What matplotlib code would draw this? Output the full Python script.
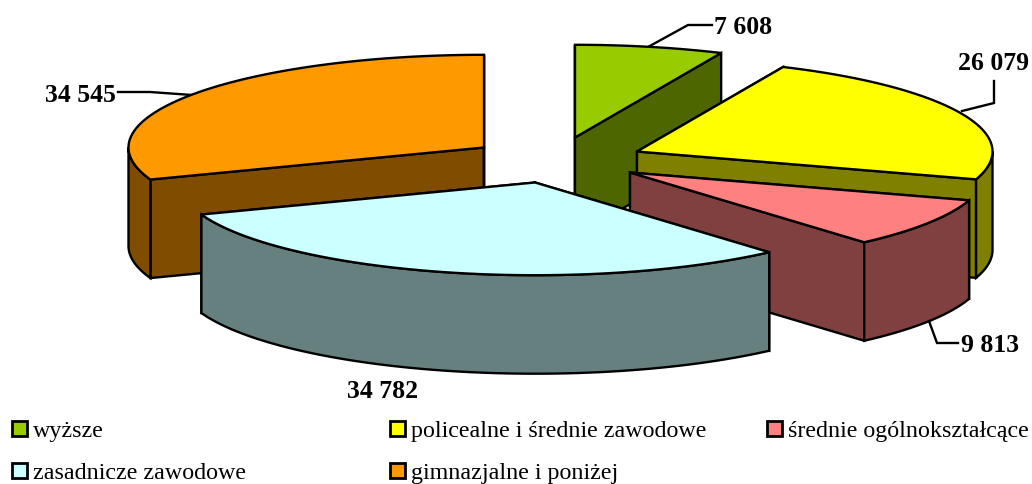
import numpy as np
import matplotlib
matplotlib.use("Agg")
import matplotlib.pyplot as plt
from matplotlib.patches import Polygon, Rectangle

categories = ["wyższe", "policealne i średnie zawodowe", "średnie ogólnokształcące",
              "zasadnicze zawodowe", "gimnazjalne i poniżej"]
values = [7608, 26079, 9813, 34782, 34545]
value_labels = ["7 608", "26 079", "9 813", "34 782", "34 545"]
top_colors = ["#99CC00", "#FFFF00", "#FF8080", "#CCFFFF", "#FF9900"]
side_colors = ["#4D6600", "#808000", "#804040", "#668080", "#804D00"]

# layout (pixels)
apex = [(575, 138.5), (637, 152.5), (630, 173.5), (535, 183.5), (484, 148.5)]
RX, RY, DEPTH = 355.5, 92.7, 98.5
draw_order = [0, 4, 1, 2, 3]
label_pos = [(743, 27.5), (994, 63), (990, 346), (383, 392), (80, 96)]
leaders = [[(648, 48), (688, 26), (712, 26)],
           [(962, 112), (994, 104), (994, 82)],
           [(929, 322), (937, 344), (958, 344)],
           None,
           [(118, 93), (150, 93), (192, 96)]]
legend_pos = [(12, 422), (390, 422), (767, 422), (12, 464), (390, 464)]

plt.rcParams["font.family"] = ["Liberation Serif", "DejaVu Serif"]
fig = plt.figure(figsize=(10.32, 4.85), dpi=100)
ax = fig.add_axes([0, 0, 1, 1])
ax.set_xlim(0, 1032)
ax.set_ylim(485, 0)
ax.axis("off")

total = sum(values)
edges = np.concatenate([[0], np.cumsum(values)]) / total * 2 * np.pi
LW = 1.7


def rim(c, a):
    return np.column_stack([c[0] + RX * np.sin(a), c[1] - RY * np.cos(a)])


def poly(pts, color, z):
    ax.add_patch(Polygon(pts, closed=True, facecolor=color, edgecolor="black",
                         linewidth=LW, joinstyle="miter", zorder=z))


z = 2
for i in draw_order:
    c = np.array(apex[i], float)
    a0, a1 = edges[i], edges[i + 1]
    down = np.array([0, DEPTH])
    # cut walls
    for a in (a0, a1):
        p = rim(c, np.array([a]))[0]
        poly([c, p, p + down, c + down], side_colors[i], z)
    # outer wall (front half only)
    lo, hi = max(a0, np.pi / 2), min(a1, 3 * np.pi / 2)
    if hi > lo:
        arc = rim(c, np.linspace(lo, hi, 100))
        poly(np.vstack([arc, (arc + down)[::-1]]), side_colors[i], z)
    # top
    arc = rim(c, np.linspace(a0, a1, 150))
    poly(np.vstack([[c], arc]), top_colors[i], z)
    z += 1

for i, txt in enumerate(value_labels):
    if leaders[i]:
        xs, ys = zip(*leaders[i])
        ax.plot(xs, ys, color="black", lw=LW, zorder=1.5, solid_joinstyle="miter")
    ax.text(*label_pos[i], txt, ha="center", va="center", fontsize=18.5,
            fontweight="bold", color="black", zorder=20)

for i, name in enumerate(categories):
    x, y = legend_pos[i]
    ax.add_patch(Rectangle((x, y), 15, 15, facecolor=top_colors[i], edgecolor="black",
                           linewidth=LW + 0.3, zorder=20))
    ax.text(x + 21, y + 15, name, ha="left", va="baseline", fontsize=17.3, color="black", zorder=20)

fig.savefig("out.png", dpi=100)
